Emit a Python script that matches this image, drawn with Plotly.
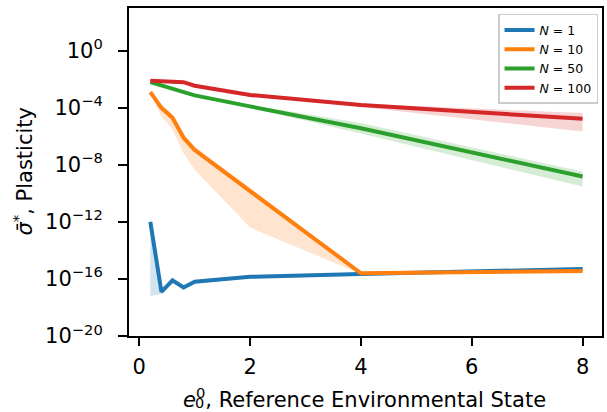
import plotly.graph_objects as go

# x positions (reference environmental state)
e0 = [0.2, 0.4, 0.6, 0.8, 1.0, 2.0, 4.0, 8.0]

# log10 of plasticity (mean, lower, upper) for each population size
n1_mean = [-12.0, -16.9, -16.1, -16.6, -16.2, -15.85, -15.65, -15.3]
n1_low = [-17.2, -17.05, -16.3, -16.75, -16.3, -15.95, -15.75, -15.4]
n1_up = [-11.6, -16.75, -15.95, -16.45, -16.1, -15.75, -15.55, -15.2]

n10_mean = [-2.9, -4.0, -4.7, -6.1, -6.95, -9.85, -15.6, -15.45]
n10_low = [-2.95, -4.6, -5.5, -7.2, -8.35, -12.4, -15.65, -15.5]
n10_up = [-2.85, -3.8, -4.45, -5.8, -6.75, -9.6, -15.55, -15.4]

n50_mean = [-2.2, -2.45, -2.7, -2.92, -3.13, -3.9, -5.43, -8.82]
n50_low = [-2.25, -2.5, -2.75, -2.97, -3.2, -4.0, -5.8, -9.52]
n50_up = [-2.15, -2.4, -2.65, -2.87, -3.08, -3.8, -5.07, -8.47]

n100_mean = [-2.1, -2.15, -2.2, -2.2, -2.45, -3.1, -3.8, -4.77]
n100_low = [-2.15, -2.2, -2.25, -2.25, -2.5, -3.17, -3.95, -5.66]
n100_up = [-2.05, -2.1, -2.15, -2.15, -2.4, -3.03, -3.7, -4.37]

labels = ["<i>N</i> = 1", "<i>N</i> = 10", "<i>N</i> = 50", "<i>N</i> = 100"]
colors = ["#1f77b4", "#ff7f0e", "#2ca02c", "#d62728"]
fills = ["rgba(31,119,180,0.2)", "rgba(255,127,14,0.2)",
         "rgba(44,160,44,0.2)", "rgba(214,39,40,0.2)"]

ytick_exp = [0, -4, -8, -12, -16, -20]
ytick_text = ["10<sup>%s</sup>" % (str(v).replace("-", "\u2212")) for v in ytick_exp]
xtick_vals = [0, 2, 4, 6, 8]

series = [(n1_mean, n1_low, n1_up), (n10_mean, n10_low, n10_up),
          (n50_mean, n50_low, n50_up), (n100_mean, n100_low, n100_up)]

def p10(a):
    return [10 ** v for v in a]

fig = go.Figure()
for (m, lo, up), lab, c, f in zip(series, labels, colors, fills):
    fig.add_trace(go.Scatter(
        x=e0 + e0[::-1], y=p10(up) + p10(lo)[::-1],
        fill="toself", fillcolor=f, line=dict(width=0),
        mode="lines", hoverinfo="skip", showlegend=False))
for (m, lo, up), lab, c, f in zip(series, labels, colors, fills):
    fig.add_trace(go.Scatter(
        x=e0, y=p10(m), mode="lines", name=lab,
        line=dict(color=c, width=4)))

font = "DejaVu Sans"
FS = 21
fig.update_layout(
    width=607, height=412,
    margin=dict(l=129, r=3, t=8, b=76),
    plot_bgcolor="white", paper_bgcolor="white",
    font=dict(family=font, size=FS, color="black"),
    showlegend=True,
    legend=dict(x=0.9916, y=0.982, xanchor="right", yanchor="top",
                bgcolor="rgba(255,255,255,0.8)", bordercolor="#cccccc",
                borderwidth=1.5, font=dict(size=12.5, family=font),
                tracegroupgap=0),
)
fig.update_xaxes(
    range=[-0.185, 8.35], tickvals=xtick_vals, ticktext=[str(v) for v in xtick_vals],
    showgrid=False, zeroline=False, showline=True, linecolor="black", linewidth=2,
    mirror=True, ticks="outside", ticklen=8, tickwidth=2, tickcolor="black",
    ticklabelstandoff=3, tickfont=dict(size=FS, family=font))
fig.update_yaxes(
    type="log", range=[-20, 3], tickvals=[10 ** v for v in ytick_exp], ticktext=ytick_text,
    showgrid=False, zeroline=False, showline=True, linecolor="black", linewidth=2,
    mirror=True, ticks="outside", ticklen=9, tickwidth=2, tickcolor="black",
    ticklabelstandoff=11, tickfont=dict(size=FS, family=font))

fig.add_annotation(
    text="<i>\u03c3\u0304</i><sup>*</sup>, Plasticity", textangle=-90,
    xref="paper", yref="paper", x=(23 - 129) / 475, y=(336 - 171) / 328,
    xanchor="center", yanchor="middle", showarrow=False,
    font=dict(size=FS, family=font))
fig.add_annotation(
    text="<i>e</i><sup>0</sup>, Reference Environmental State",
    xref="paper", yref="paper", x=(181 - 129) / 475, y=-(398 - 336) / 328,
    xanchor="left", yanchor="middle", showarrow=False,
    font=dict(size=FS, family=font))
fig.add_annotation(
    text="0",
    xref="paper", yref="paper", x=(199.5 - 129) / 475, y=-(403 - 336) / 328,
    xanchor="center", yanchor="middle", showarrow=False,
    font=dict(size=14.5, family=font))

fig.write_html("out.html", config={"displayModeBar": False},
               post_script="document.body.style.margin='0';document.body.style.overflow='hidden';")
